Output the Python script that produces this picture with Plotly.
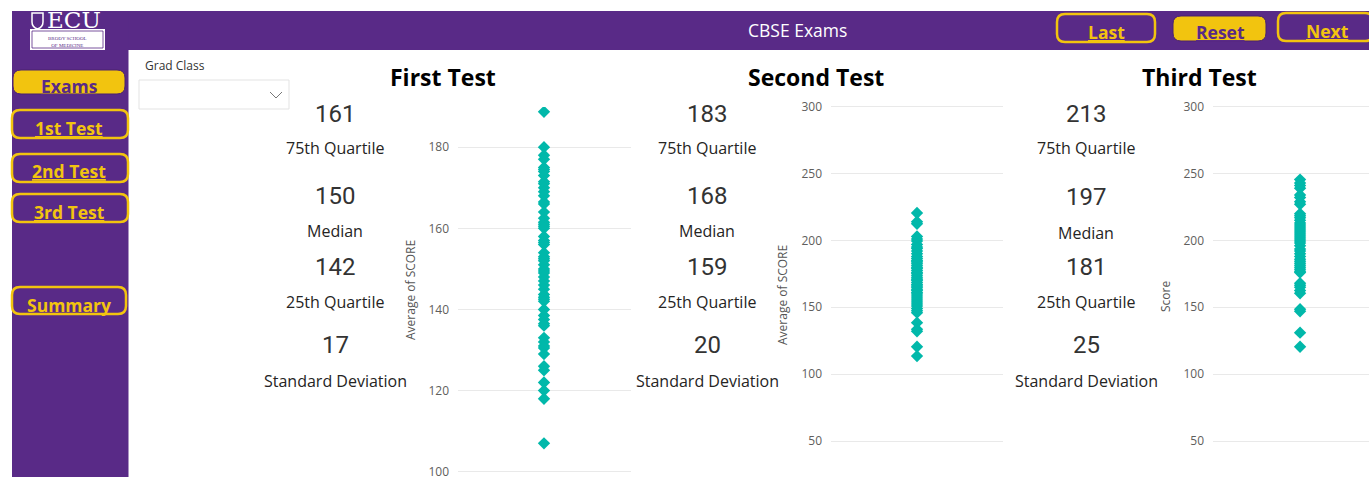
import plotly.graph_objects as go

W, H = 1369, 477

# ---------------- data ----------------
test_names = ["First Test", "Second Test", "Third Test"]
first_scores = [188.7, 180, 178, 177, 175, 174.5, 174, 173, 171.5, 171, 170, 169, 168, 166.5, 166,
                164, 162.5, 161.5, 161, 160.5, 160, 158, 157, 156.5, 156, 154, 153, 152.5, 152, 151,
                150, 149.5, 149, 148, 147, 146, 145, 143.7, 143, 142.5, 142, 140, 138.5, 137.5, 136.5,
                136, 133, 132, 131, 130.5, 129, 126, 125, 122, 120, 118, 107]
second_scores = [220.5, 214, 212.5, 203, 201, 199.5, 197, 195, 194, 192, 190, 188, 186.5, 185, 184,
                 183, 181.5, 180, 179, 177.5, 176, 175, 173.5, 172, 171, 170, 168.5, 167, 166, 165,
                 163.5, 162.5, 161, 160, 158.5, 157, 155.5, 154, 152.5, 151, 149, 147.5, 146, 138.5,
                 133.5, 132, 120.5, 113.5]
third_scores = [245.5, 243, 241, 239, 234, 232, 229, 227, 220, 218.5, 217, 215, 213, 211.5, 210,
                208.5, 207, 205.5, 204, 202.5, 201, 199.5, 198, 196, 193.5, 192, 190, 188, 186, 184.5,
                183, 181.5, 180, 178.5, 177, 176, 168, 166.5, 165, 162.5, 160.5, 148.5, 147, 131, 120.5]
q75_values = [161, 183, 213]
median_values = [150, 168, 197]
q25_values = [142, 159, 181]
std_values = [17, 20, 25]
stat_labels = ["75th Quartile", "Median", "25th Quartile", "Standard Deviation"]
y_titles = ["Average of SCORE", "Average of SCORE", "Score"]
ticks_first = [100, 120, 140, 160, 180]
ticks_other = [50, 100, 150, 200, 250, 300]
nav_buttons = ["Exams", "1st Test", "2nd Test", "3rd Test", "Summary"]
top_buttons = ["Last", "Reset", "Next"]
header_title = "CBSE Exams"
filter_label = "Grad Class"

# ---------------- styling helpers ----------------
PURPLE = "#592A87"
GOLD = "#F2C40F"
TEAL = "#01B8AA"
TXT = "#252423"
SANS = "Open Sans"


def px(x):
    return x / W


def py(y):
    return 1 - y / H


def rrect(x0, y0, x1, y1, r):
    X = lambda v: f"{px(v):.5f}"
    Y = lambda v: f"{py(v):.5f}"
    return (f"M {X(x0 + r)},{Y(y0)} L {X(x1 - r)},{Y(y0)} Q {X(x1)},{Y(y0)} {X(x1)},{Y(y0 + r)} "
            f"L {X(x1)},{Y(y1 - r)} Q {X(x1)},{Y(y1)} {X(x1 - r)},{Y(y1)} "
            f"L {X(x0 + r)},{Y(y1)} Q {X(x0)},{Y(y1)} {X(x0)},{Y(y1 - r)} "
            f"L {X(x0)},{Y(y0 + r)} Q {X(x0)},{Y(y0)} {X(x0 + r)},{Y(y0)} Z")


fig = go.Figure()

# ---------------- scatter charts ----------------
series = [first_scores, second_scores, third_scores]
x_domains = [(458, 631), (831, 1003), (1213, 1369)]
x_ranges = [(-0.497, 0.503), (-0.5, 0.5), (-0.558, 0.442)]
y_ranges = [(98.7, 189.9), (23.1, 302), (23.1, 302)]
tick_sets = [ticks_first, ticks_other, ticks_other]
top_px = [107, 104, 104]
title_x = [410, 782, 1165]

for i, vals in enumerate(series):
    sfx = "" if i == 0 else str(i + 1)
    fig.add_trace(go.Scatter(
        x=[test_names[i]] * len(vals), y=vals, mode="markers",
        marker=dict(symbol="diamond", size=9.5, color=TEAL, line=dict(width=0)),
        xaxis="x" + sfx, yaxis="y" + sfx, showlegend=False, hoverinfo="y"))
    fig.layout["xaxis" + sfx] = dict(
        domain=[px(x_domains[i][0]), px(x_domains[i][1])], range=list(x_ranges[i]),
        anchor="y" + sfx, showticklabels=False, showgrid=False, zeroline=False,
        showline=False, fixedrange=True, automargin=False)
    fig.layout["yaxis" + sfx] = dict(
        domain=[0, py(top_px[i])], range=list(y_ranges[i]), anchor="x" + sfx,
        tickvals=tick_sets[i], showgrid=True, gridcolor="#E9E9E9", gridwidth=1,
        zeroline=False, showline=False, ticks="", ticklabelstandoff=8, automargin=False,
        ticklabeloverflow="allow",
        tickfont=dict(family=SANS, size=12, color="#605E5C"), fixedrange=True)

shapes = []
ann = []

# background frames
shapes.append(dict(type="rect", xref="paper", yref="paper", x0=px(12), x1=px(1369),
                   y0=py(50), y1=py(11), fillcolor=PURPLE, line=dict(width=0), layer="below"))
shapes.append(dict(type="rect", xref="paper", yref="paper", x0=px(12), x1=px(128.5),
                   y0=py(477), y1=py(11), fillcolor=PURPLE, line=dict(width=0), layer="below"))

# logo
shapes.append(dict(type="rect", xref="paper", yref="paper", x0=px(30), x1=px(105),
                   y0=py(50), y1=py(29), fillcolor="white", line=dict(width=0)))
shapes.append(dict(type="rect", xref="paper", yref="paper", x0=px(32), x1=px(103),
                   y0=py(48), y1=py(31), fillcolor="rgba(0,0,0,0)", line=dict(width=0.8, color=PURPLE)))
shapes.append(dict(type="path", xref="paper", yref="paper",
                   path=f"M {px(32)},{py(13)} L {px(43)},{py(13)} L {px(43)},{py(22)} "
                        f"Q {px(43)},{py(27)} {px(37.5)},{py(29)} Q {px(32)},{py(27)} {px(32)},{py(22)} Z",
                   fillcolor="rgba(0,0,0,0)", line=dict(width=1.5, color="white")))
ann.append(dict(text="ECU", x=px(74), y=py(20), borderpad=0,
                font=dict(family="DejaVu Serif", size=23, color="white")))
ann.append(dict(text="BRODY SCHOOL<br>OF MEDICINE", x=px(67.5), y=py(41.5), borderpad=0,
                font=dict(family="Liberation Serif", size=5, color=PURPLE)))

# header title
ann.append(dict(text=header_title, x=px(797), y=py(30), font=dict(family=SANS, size=17.5, color="white")))

# top buttons
top_boxes = [(1057, 14, 1155, 42), (1173, 16, 1266, 41), (1278, 13, 1373, 41)]
top_fill = [False, True, False]
top_txt = [(1106, 32), (1220, 32), (1327, 31)]
for name, box, filled, (tx, ty) in zip(top_buttons, top_boxes, top_fill, top_txt):
    shapes.append(dict(type="path", xref="paper", yref="paper", path=rrect(*box, 8),
                       fillcolor=GOLD if filled else "rgba(0,0,0,0)",
                       line=dict(width=1 if filled else 2.5, color="#4A2270" if filled else GOLD)))
    ann.append(dict(text=f"<u><b>{name}</b></u>", x=px(tx), y=py(ty),
                    font=dict(family=SANS, size=17.5, color=PURPLE if filled else GOLD)))

# side nav buttons
nav_boxes = [(13, 70, 125, 94), (12, 110, 128, 138), (12, 154, 128, 182), (12, 194, 128, 222), (12, 287, 126, 314)]
nav_fill = [True, False, False, False, False]
nav_txt_y = [86, 128, 171, 212, 305]
for name, box, filled, ty in zip(nav_buttons, nav_boxes, nav_fill, nav_txt_y):
    shapes.append(dict(type="path", xref="paper", yref="paper", path=rrect(*box, 8),
                       fillcolor=GOLD if filled else "rgba(0,0,0,0)",
                       line=dict(width=1 if filled else 2.5, color="#4A2270" if filled else GOLD)))
    ann.append(dict(text=f"<u><b>{name}</b></u>", x=px(69), y=py(ty),
                    font=dict(family=SANS, size=17.5, color=PURPLE if filled else GOLD)))

# slicer
ann.append(dict(text=filter_label, x=px(143), y=py(65), xanchor="left",
                font=dict(family=SANS, size=12, color="#333333")))
shapes.append(dict(type="rect", xref="paper", yref="paper", x0=px(139), x1=px(289),
                   y0=py(109), y1=py(80), fillcolor="white", line=dict(width=1, color="#E3E3E3")))
shapes.append(dict(type="path", xref="paper", yref="paper",
                   path=f"M {px(270)},{py(92)} L {px(276)},{py(98)} L {px(282)},{py(92)}",
                   line=dict(width=1, color="#777777")))

# chart titles
title_cx = [443, 816, 1199]
for name, cx in zip(test_names, title_cx):
    ann.append(dict(text=f"<b>{name}</b>", x=px(cx), y=py(77),
                    font=dict(family=SANS, size=23, color="black")))

# y axis titles
title_y = [290, 295, 297]
for t, tx, ty in zip(y_titles, title_x, title_y):
    ann.append(dict(text=t, x=px(tx), y=py(ty), textangle=-90,
                    font=dict(family=SANS, size=12, color="#555555")))

# stat cards
col_cx = [335, 707, 1086]
num_y = [[114, 196, 267, 345], [114, 196, 267, 345], [114, 197, 267, 345]]
lab_y = [[148, 231, 302, 381], [148, 231, 302, 381], [148, 233, 302, 381]]
for i in range(3):
    nums = [q75_values[i], median_values[i], q25_values[i], std_values[i]]
    for j in range(4):
        ann.append(dict(text=str(nums[j]), x=px(col_cx[i]), y=py(num_y[i][j]),
                        font=dict(family="Roboto", size=24, color="#333333")))
        ann.append(dict(text=stat_labels[j], x=px(col_cx[i]), y=py(lab_y[i][j]),
                        font=dict(family=SANS, size=16, color=TXT)))

for a in ann:
    a.setdefault("xref", "paper")
    a.setdefault("yref", "paper")
    a.setdefault("xanchor", "center")
    a.setdefault("yanchor", "middle")
    a["showarrow"] = False

fig.update_layout(width=W, height=H,
                  margin=dict(l=0, r=0, t=0, b=0, pad=0, autoexpand=False),
                  paper_bgcolor="white", plot_bgcolor="rgba(0,0,0,0)",
                  shapes=shapes, annotations=ann, showlegend=False)

fig.write_html(
    "out.html", config={"displayModeBar": False},
    post_script=("document.documentElement.style.margin='0';document.body.style.margin='0';"
                 "document.body.style.padding='0';document.body.style.overflow='hidden';"
                 "var d=document.getElementById('{plot_id}');d.style.position='absolute';"
                 "d.style.top='0px';d.style.left='0px';"))
